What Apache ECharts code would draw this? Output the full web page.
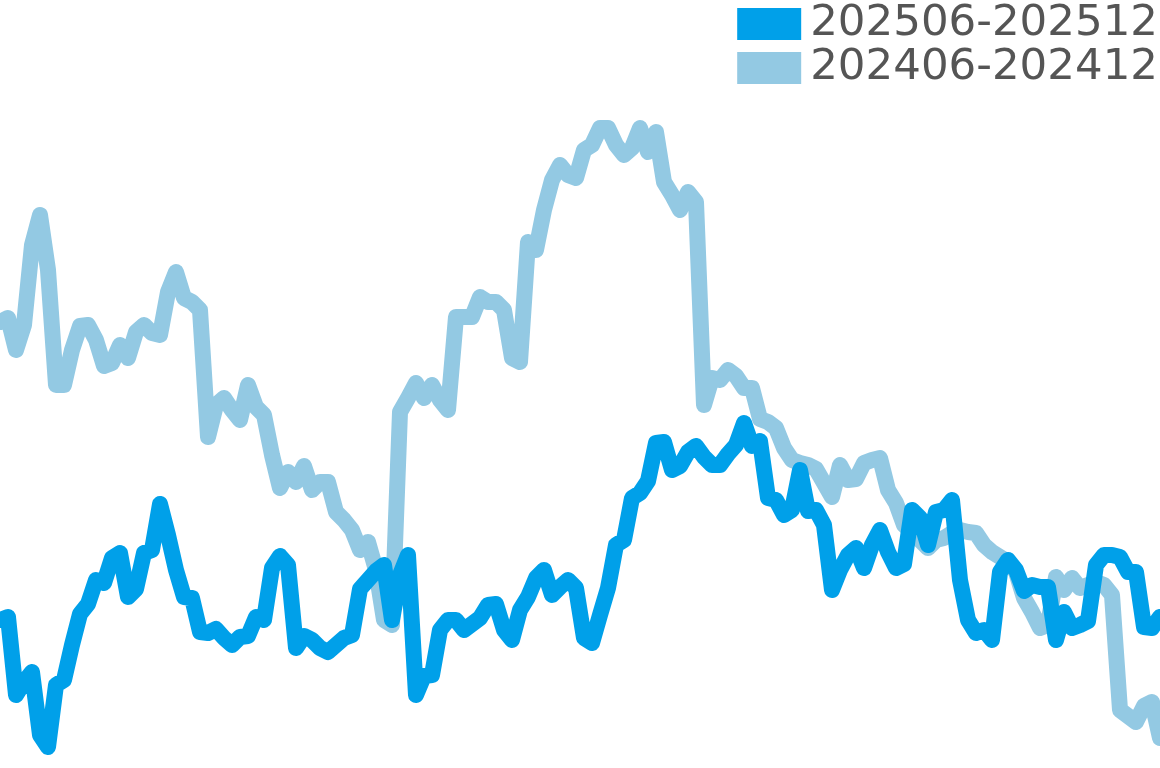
<!DOCTYPE html>
<html>
<head>
<meta charset="utf-8">
<script src="https://cdn.jsdelivr.net/npm/echarts@6/dist/echarts.min.js"></script>
<style>
html,body{margin:0;padding:0;background:#fff;}
#chart{width:1160px;height:768px;}
</style>
</head>
<body>
<div id="chart"></div>
<script>
const seriesNames = ['202506-202512', '202406-202412'];

const values2025 = [
  14.8,15.1,7.3,8.6,9.6,3.3,2.1,8.3,8.8,12.3,
  15.4,16.4,18.8,18.5,21.0,21.5,17.1,17.9,21.5,21.8,
  26.4,23.3,19.8,17.1,17.0,13.6,13.5,13.9,13.0,12.3,
  13.1,13.2,15.1,14.8,20.0,21.2,20.3,12.0,13.2,12.8,
  12.0,11.6,12.3,13.0,13.3,17.9,18.8,19.7,20.3,14.8,
  19.3,21.3,7.3,9.2,9.3,13.8,14.8,14.8,13.8,14.4,
  15.0,16.3,16.4,13.8,12.8,15.8,17.1,19.0,19.8,17.3,
  18.1,18.8,18.0,13.0,12.5,15.3,18.0,22.3,22.8,27.0,
  27.5,28.7,32.5,32.6,29.8,30.2,31.6,32.2,31.1,30.3,
  30.3,31.4,32.3,34.5,32.2,32.7,27.0,26.8,25.3,25.8,
  29.8,25.7,25.8,24.3,17.8,19.8,21.3,22.0,20.0,22.3,
  23.8,21.6,20.0,20.4,25.8,25.0,22.3,25.6,25.8,26.8,
  18.8,14.8,13.5,13.8,12.8,19.6,20.8,19.8,17.7,18.3,
  18.1,18.1,12.8,15.6,14.0,14.3,14.7,20.3,21.3,21.3,
  21.1,19.6,19.6,14.1,14.0,15.1
];

const values2024 = [
  44.6,45.0,41.8,44.3,52.3,55.3,49.8,38.3,38.3,41.8,
  44.2,44.3,42.8,40.2,40.5,42.3,41.0,43.6,44.3,43.5,
  43.3,47.6,49.6,47.0,46.6,45.8,33.1,36.3,37.0,35.8,
  34.8,38.3,36.1,35.3,31.3,28.0,29.6,28.6,30.2,27.8,
  28.6,28.6,25.6,24.8,23.8,21.8,22.6,19.8,14.8,14.3,
  35.6,37.0,38.5,37.0,38.3,36.8,35.8,45.1,45.1,45.1,
  47.1,46.6,46.6,45.8,41.0,40.6,52.6,51.8,55.8,58.8,
  60.3,59.3,59.0,61.8,62.3,64.0,64.0,62.3,61.3,62.0,
  64.0,61.6,63.6,58.6,57.3,55.8,57.6,56.6,36.3,39.0,
  38.8,39.8,39.2,38.0,38.0,34.9,34.6,34.0,32.0,30.8,
  30.5,30.3,29.9,28.5,27.1,30.3,28.8,28.9,30.5,30.8,
  31.0,27.8,26.5,24.3,23.6,22.8,22.0,22.8,23.0,23.5,
  23.8,23.6,23.5,22.3,21.6,21.1,20.6,19.6,17.0,15.6,
  14.0,14.3,19.1,17.8,19.0,18.0,18.3,18.6,18.3,17.3,
  5.8,5.2,4.6,6.2,6.6,3.0
];

const categories = values2025.map((_, i) => 'D' + (i + 1));

const colors = ['#00A0E9', '#93C9E3'];

const chart = echarts.init(document.getElementById('chart'), null, {renderer: 'canvas'});
chart.setOption({
  animation: false,
  backgroundColor: '#ffffff',
  grid: {left: 0, right: 0, top: 0, bottom: 0, containLabel: false},
  legend: {
    data: seriesNames,
    orient: 'vertical',
    right: 2,
    top: 2,
    padding: 0,
    icon: 'rect',
    itemWidth: 64,
    itemHeight: 32,
    itemGap: 0,
    textStyle: {
      fontFamily: 'DejaVu Sans',
      fontSize: 43.5,
      color: '#555555',
      lineHeight: 44,
      padding: [0, 0, 0, 4]
    }
  },
  xAxis: {
    type: 'category',
    data: categories,
    boundaryGap: false,
    show: false
  },
  yAxis: {
    type: 'value',
    min: 0,
    max: 76.8,
    show: false
  },
  series: [
    {
      name: seriesNames[1],
      type: 'line',
      data: values2024,
      showSymbol: false,
      symbol: 'none',
      color: colors[1],
      lineStyle: {width: 16, color: colors[1], join: 'round', cap: 'round'},
      z: 2
    },
    {
      name: seriesNames[0],
      type: 'line',
      data: values2025,
      showSymbol: false,
      symbol: 'none',
      color: colors[0],
      lineStyle: {width: 16, color: colors[0], join: 'round', cap: 'round'},
      z: 3
    }
  ]
});
</script>
</body>
</html>
